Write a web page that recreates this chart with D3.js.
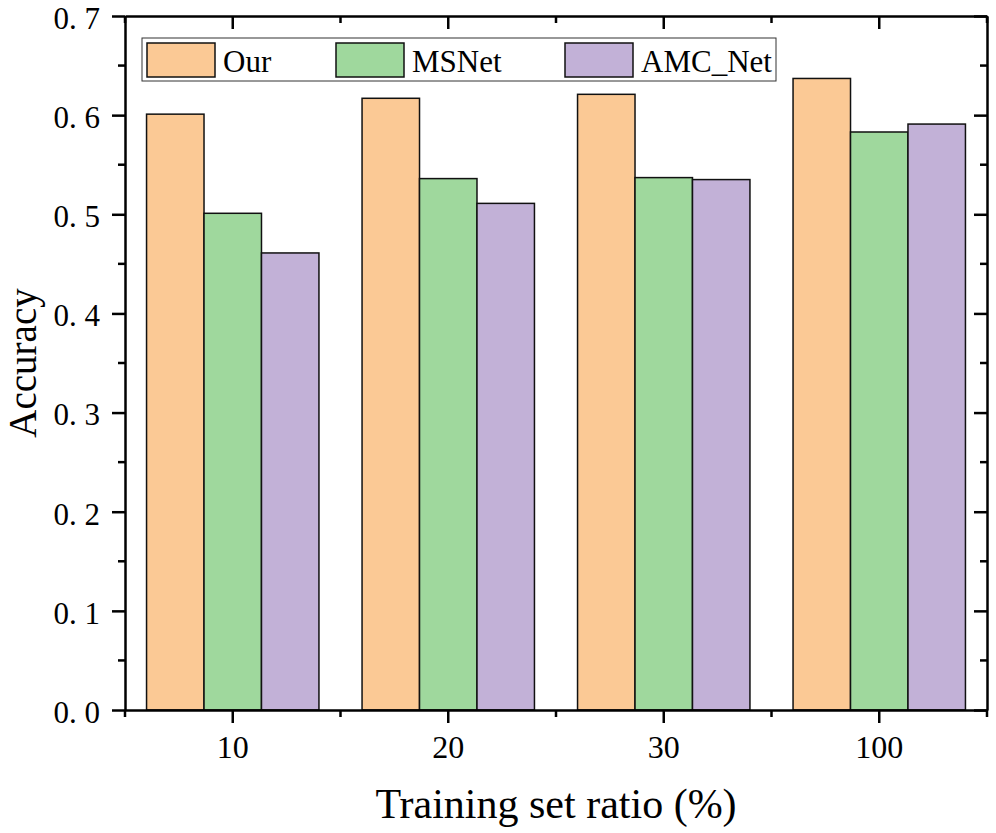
<!DOCTYPE html>
<meta charset="utf-8">
<script src="https://d3js.org/d3.v7.min.js"></script>
<style>
  body { margin: 0; background: #fff; }
  text { font-family: "Liberation Serif", "DejaVu Serif", serif; }
</style>
<div id="chart"></div>
<script>
// chart data
const ratios = ["10", "20", "30", "100"];
const seriesNames = ["Our", "MSNet", "AMC_Net"];
const ourAcc = [0.601, 0.617, 0.621, 0.637];
const msnetAcc = [0.501, 0.536, 0.537, 0.583];
const amcAcc = [0.461, 0.511, 0.535, 0.591];
const yTicks = [0, 0.1, 0.2, 0.3, 0.4, 0.5, 0.6, 0.7];

const colors = ["#fbc995", "#9fd89d", "#c2b1d7"];
const allSeries = [ourAcc, msnetAcc, amcAcc];

const W = 996, H = 833;
const margin = {top: 16, right: 9, bottom: 123, left: 125};
const width = W - margin.left - margin.right;
const height = H - margin.top - margin.bottom;

const svg = d3.select("#chart").append("svg")
  .attr("width", W).attr("height", H);
const g = svg.append("g")
  .attr("transform", "translate(" + margin.left + "," + margin.top + ")");

const x = d3.scaleBand().domain(ratios).range([0, width]).padding(0);
const xInner = d3.scaleBand().domain(seriesNames).range([0, x.bandwidth() * 0.8]);
const y = d3.scaleLinear().domain([0, 0.7]).range([height, 0]);

// bars
ratios.forEach((r, i) => {
  const grp = g.append("g")
    .attr("transform", "translate(" + (x(r) + x.bandwidth() * 0.1) + ",0)");
  seriesNames.forEach((s, j) => {
    grp.append("rect")
      .attr("x", xInner(s))
      .attr("y", y(allSeries[j][i]))
      .attr("width", xInner.bandwidth())
      .attr("height", y(0) - y(allSeries[j][i]))
      .attr("fill", colors[j])
      .attr("stroke", "#111")
      .attr("stroke-width", 1.5);
  });
});

// minor tick positions
const yMinor = d3.range(0.05, 0.7, 0.1);
const boundaries = d3.range(0, ratios.length + 1).map(k => k * x.bandwidth());

// left axis
const leftAx = g.append("g").call(d3.axisLeft(y).tickValues(yTicks).tickSize(13).tickSizeOuter(0)
  .tickFormat(d => d3.format(".1f")(d).replace(".", ". ")));
leftAx.attr("font-size", null).attr("font-family", null);
leftAx.selectAll("text").style("font-size", "31px").attr("x", -25).attr("dy", "0.4em");
g.selectAll(".minL").data(yMinor).join("line")
  .attr("x1", -7).attr("x2", 0).attr("y1", d => y(d)).attr("y2", d => y(d));

// right axis (inward ticks)
g.append("g").attr("transform", "translate(" + width + ",0)")
  .call(d3.axisLeft(y).tickValues(yTicks).tickSize(13).tickSizeOuter(0).tickFormat(""));
g.selectAll(".minR").data(yMinor).join("line")
  .attr("x1", width - 7).attr("x2", width).attr("y1", d => y(d)).attr("y2", d => y(d));

// bottom axis
const bottomAx = g.append("g").attr("transform", "translate(0," + height + ")")
  .call(d3.axisBottom(x).tickSize(13).tickSizeOuter(0));
bottomAx.attr("font-size", null).attr("font-family", null);
bottomAx.selectAll("text").style("font-size", "32px").attr("y", 22).attr("dy", "0.8em");
g.selectAll(".minB").data(boundaries).join("line")
  .attr("x1", d => d).attr("x2", d => d).attr("y1", height).attr("y2", height + 7);

// top axis (inward ticks)
g.append("g")
  .call(d3.axisBottom(x).tickSize(13).tickSizeOuter(0).tickFormat(""));
g.selectAll(".minT").data(boundaries).join("line")
  .attr("x1", d => d).attr("x2", d => d).attr("y1", 0).attr("y2", 7);

g.selectAll("line").attr("stroke", "#000").attr("stroke-width", 2.5);
g.selectAll(".domain").attr("stroke", "#000").attr("stroke-width", 2.5);
g.selectAll(".tick text").attr("fill", "#000");

// axis titles
svg.append("text")
  .attr("transform", "translate(36," + (margin.top + height / 2) + ") rotate(-90)")
  .attr("text-anchor", "middle")
  .attr("font-size", 39)
  .text("Accuracy");
svg.append("text")
  .attr("x", margin.left + width / 2)
  .attr("y", 818)
  .attr("text-anchor", "middle")
  .attr("font-size", 42)
  .text("Training set ratio (%)");

// legend
const legend = svg.append("g");
legend.append("rect")
  .attr("x", 142).attr("y", 38).attr("width", 634).attr("height", 43)
  .attr("fill", "#fff").attr("stroke", "#333").attr("stroke-width", 1);
const legendX = [147, 336, 565];
seriesNames.forEach((s, j) => {
  legend.append("rect")
    .attr("x", legendX[j]).attr("y", 43).attr("width", 68).attr("height", 34)
    .attr("fill", colors[j]).attr("stroke", "#111").attr("stroke-width", 1.5);
  legend.append("text")
    .attr("x", legendX[j] + 76).attr("y", 72)
    .attr("font-size", 31)
    .text(s);
});
</script>
